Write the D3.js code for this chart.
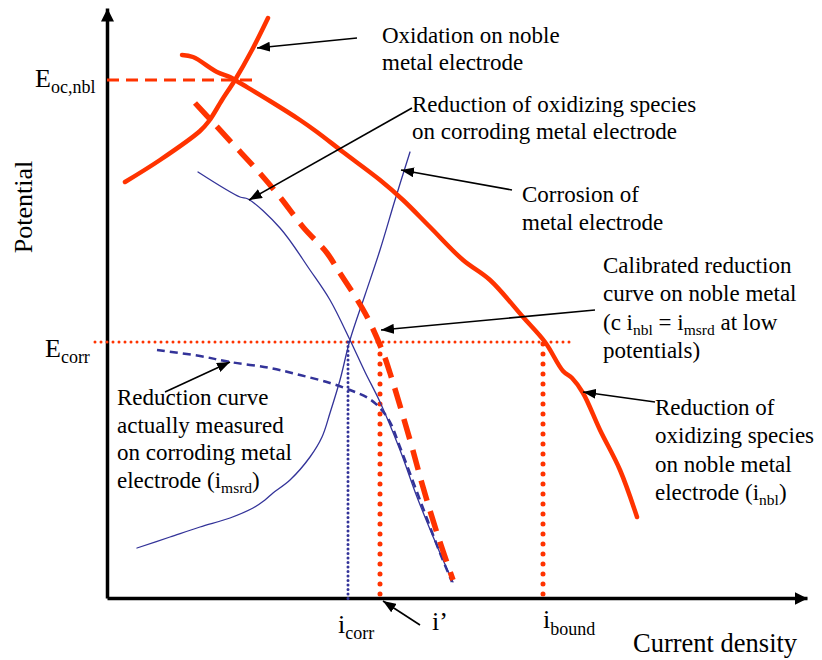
<!DOCTYPE html>
<html>
<head>
<meta charset="utf-8" />
<title>Potential vs current density</title>
<style>
html, body {
    margin: 0px;
    padding: 0px;
    background: #fff;
}
svg text {
    font-family: "Liberation Serif", "Times New Roman", serif;
    fill: #000;
}
</style>
</head>
<body>
<svg id="chart" width="822" height="660"></svg>

<script src="https://cdn.jsdelivr.net/npm/d3@7/dist/d3.min.js"></script>
<script>
// curves as [current density, potential], arbitrary units
var oxidationNoble = [[18,416],[53,438],[93,467],[102,477],[115,498],[128,518],[145,548],[161,580]];
var reductionNoble = [[75,543],[86,541],[110,526],[123,521],[133,515],[163,497],[193,478],[210,466],
    [236,446],[273,418],[296,398],[323,371],[356,338],[383,318],[416,281],[438,256],[456,227],
    [465,220],[476,205],[493,168],[513,128],[530,81]];
var calibratedNoble = [[88,495],[125,455],[150,428],[173,401],[196,371],[220,345],[231,328],[258,285],
    [275,248],[283,225],[303,158],[316,111],[330,65],[346,18]];
var reductionCorroding = [[91,426],[133,401],[141,399],[173,370],[203,328],[223,298],[243,258],[258,226],
    [273,196],[293,148],[310,101],[333,45],[346,16]];
var measuredReduction = [[50,248],[93,242],[123,236],[163,230],[193,223],[223,215],[243,208],[261,200],
    [273,190],[283,176],[293,151],[313,98],[333,45],[345,16]];
var corrosionMetal = [[30,50],[63,61],[93,71],[123,80],[146,90],[158,98],[166,105],[183,118],[203,141],
    [215,161],[223,185],[233,218],[243,258],[258,303],[273,348],[288,398],[303,446]];

var potentialLevels = [518, 256];          // E_oc,nbl , E_corr
var currentMarks = [241, 273, 436];        // i_corr , i' , i_bound

!(function(){
    "use strict";

    var red = "#ff3300", blue = "#333399";
    var svg = d3.select("#chart");

    var x = d3.scaleLinear().domain([0, 700]).range([107, 807]);
    var y = d3.scaleLinear().domain([0, 590]).range([598, 8]);

    var line = d3.line()
        .x(function(d){ return x(d[0]); })
        .y(function(d){ return y(d[1]); })
        .curve(d3.curveCatmullRom.alpha(0.5));

    var defs = svg.append("defs");
    function marker(id, len, half) {
        defs.append("marker")
            .attr("id", id)
            .attr("markerUnits", "userSpaceOnUse")
            .attr("viewBox", [0, -half, len, half * 2].join(" "))
            .attr("refX", len).attr("refY", 0)
            .attr("markerWidth", len).attr("markerHeight", half * 2)
            .attr("orient", "auto")
            .append("path")
            .attr("d", "M0," + (-half) + "L" + len + ",0L0," + half + "Z")
            .attr("fill", "#000");
    }
    marker("axisHead", 13, 6.5);
    marker("noteHead", 13, 5);

    // axes, no ticks
    var xAxis = svg.append("g").attr("transform", "translate(0," + y(0) + ")")
        .call(d3.axisBottom(x).tickValues([]).tickSizeOuter(0));
    var yAxis = svg.append("g").attr("transform", "translate(" + x(0) + ",0)")
        .call(d3.axisLeft(y).tickValues([]).tickSizeOuter(0));
    [xAxis, yAxis].forEach(function(a){
        a.select(".domain")
            .attr("stroke", "#000")
            .attr("stroke-width", 3.5)
            .attr("marker-end", "url(#axisHead)");
    });

    // reference levels
    function seg(x1, y1, x2, y2) {
        return svg.append("line")
            .attr("x1", x1).attr("y1", y1).attr("x2", x2).attr("y2", y2)
            .attr("fill", "none");
    }
    seg(x(0), y(potentialLevels[0]), x(145), y(potentialLevels[0]))
        .attr("stroke", red).attr("stroke-width", 3).attr("stroke-dasharray", "12 7");
    seg(x(-12), y(potentialLevels[1]), x(463), y(potentialLevels[1]))
        .attr("stroke", red).attr("stroke-width", 3)
        .attr("stroke-dasharray", "0 6").attr("stroke-linecap", "round");
    seg(x(currentMarks[0]), y(potentialLevels[1]), x(currentMarks[0]), y(-1))
        .attr("stroke", blue).attr("stroke-width", 3)
        .attr("stroke-dasharray", "0 4.5").attr("stroke-linecap", "round");
    [currentMarks[1], currentMarks[2]].forEach(function(c){
        seg(x(c), y(potentialLevels[1]) + 2, x(c), y(0))
            .attr("stroke", red).attr("stroke-width", 5)
            .attr("stroke-dasharray", "0 10").attr("stroke-linecap", "round");
    });

    // curves
    function curve(data, color, width, dash) {
        var p = svg.append("path")
            .datum(data)
            .attr("d", line)
            .attr("fill", "none")
            .attr("stroke", color)
            .attr("stroke-width", width)
            .attr("stroke-linejoin", "round");
        if (dash) p.attr("stroke-dasharray", dash);
        else p.attr("stroke-linecap", "round");
        return p;
    }
    curve(corrosionMetal, blue, 1.3);
    curve(reductionCorroding, blue, 1.3);
    curve(measuredReduction, blue, 2.5, "8 5");
    curve(calibratedNoble, red, 5.5, "21 11");
    curve(oxidationNoble, red, 4.5);
    curve(reductionNoble, red, 4.5);

    // text with subscripts: parts = [[text, isSub], ...]
    function rich(px, py, parts, size, subSize, shift) {
        var t = svg.append("text").attr("x", px).attr("y", py).style("font-size", size + "px");
        var off = 0;
        parts.forEach(function(p){
            var want = p[1] ? shift : 0;
            var s = t.append("tspan").attr("dy", want - off).text(p[0]);
            if (p[1]) s.style("font-size", subSize + "px");
            off = want;
        });
        return t;
    }

    // annotations: label lines, first baseline (data units), line step, arrow from -> to
    var notes = [
        { at: [275, 555], step: 27, arrow: [[250, 560], [150, 550]],
          lines: [[["Oxidation on noble"]], [["metal electrode"]]] },
        { at: [305, 486], step: 26.5, arrow: [[305, 490], [142, 398]],
          lines: [[["Reduction of oxidizing species"]], [["on corroding metal electrode"]]] },
        { at: [415, 396], step: 28, arrow: [[405, 408], [294, 428]],
          lines: [[["Corrosion of"]], [["metal electrode"]]] },
        { at: [496, 325], step: 28.3, arrow: [[488, 288], [274, 268]],
          lines: [[["Calibrated reduction"]], [["curve on noble metal"]],
                  [["(c i"], ["nbl", 1], [" = i"], ["msrd", 1], [" at low"]], [["potentials)"]]] },
        { at: [548, 183], step: 28.3, arrow: [[548, 196], [476, 206]],
          lines: [[["Reduction of"]], [["oxidizing species"]], [["on noble metal"]],
                  [["electrode (i"], ["nbl", 1], [")"]]] },
        { at: [10, 193], step: 27.7, arrow: [[58, 206], [123, 236]],
          lines: [[["Reduction curve"]], [["actually measured"]], [["on corroding metal"]],
                  [["electrode (i"], ["msrd", 1], [")"]]] },
        { at: null, arrow: [[313, -27], [276, -3]], lines: [] }
    ];
    notes.forEach(function(n){
        svg.append("line")
            .attr("x1", x(n.arrow[0][0])).attr("y1", y(n.arrow[0][1]))
            .attr("x2", x(n.arrow[1][0])).attr("y2", y(n.arrow[1][1]))
            .attr("stroke", "#000").attr("stroke-width", 1.6)
            .attr("marker-end", "url(#noteHead)");
        n.lines.forEach(function(parts, i){
            rich(x(n.at[0]), y(n.at[1]) + i * n.step, parts, 23, 15.5, 5);
        });
    });

    // level and axis labels
    rich(x(0) - 72, y(potentialLevels[0]) + 7, [["E"], ["oc,nbl", 1]], 26, 18, 6);
    rich(x(0) - 62, y(potentialLevels[1]) + 15, [["E"], ["corr", 1]], 26, 18, 6);
    rich(x(currentMarks[0]) - 10, 633, [["i"], ["corr", 1]], 26, 18, 6);
    rich(x(currentMarks[1]) + 52, 630, [["i\u2019"]], 26, 18, 6);
    rich(x(currentMarks[2]), 628, [["i"], ["bound", 1]], 26, 18, 7);

    svg.append("text")
        .attr("x", 633).attr("y", 652)
        .style("font-size", "26.5px")
        .text("Current density");
    svg.append("text")
        .attr("transform", "translate(32,207) rotate(-90)")
        .attr("text-anchor", "middle")
        .style("font-size", "26px")
        .text("Potential");
}());
</script>
</body>
</html>
